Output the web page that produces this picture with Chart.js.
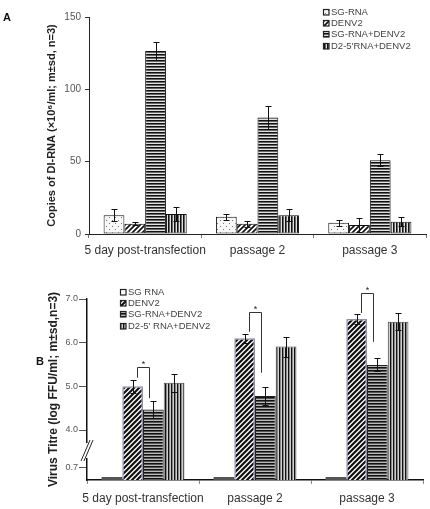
<!DOCTYPE html>
<html>
<head>
<meta charset="utf-8">
<script src="https://cdn.jsdelivr.net/npm/chart.js@4.4.0/dist/chart.umd.min.js"></script>
<style>
  body { margin: 0; background: #fff; }
  #wrap { position: relative; width: 430px; height: 509px; overflow: hidden; }
  canvas { position: absolute; left: 0; }
  #cA { top: 0; }
  #cB { top: 262px; }
  .tag { position: absolute; font: bold 11px "Liberation Sans", Arial, sans-serif; line-height: 1; color: #111; }
</style>
</head>
<body>
<div id="wrap">
  <canvas id="cA" width="430" height="262"></canvas>
  <canvas id="cB" width="430" height="247"></canvas>
  <div class="tag" style="left:3px;top:12px">A</div>
  <div class="tag" style="left:36px;top:356px">B</div>
</div>
<script>
//--------------------------------Data--------------------------------
var categories = ['5 day post-transfection', 'passage 2', 'passage 3'];

// panel A - copies of DI-RNA (x10^6/ml)
var labelsA = ['SG-RNA', 'DENV2', 'SG-RNA+DENV2', "D2-5'RNA+DENV2"];
var sgRnaA   = [13, 12, 7.8];
var denvA    = [7, 7, 6.2];
var sgDenvA  = [126.5, 80.6, 51];
var d2DenvA  = [13.8, 13, 8.5];
var sgRnaA_sd  = [4, 2, 2];
var denvA_sd   = [1, 2, 4.6];
var sgDenvA_sd = [6.5, 8, 4];
var d2DenvA_sd = [5, 4, 3];
var ticksA = [0, 50, 100, 150];

// panel B - virus titre (log FFU/ml), broken axis below 4.0
var labelsB = ['SG RNA', 'DENV2', 'SG-RNA+DENV2', "D2-5' RNA+DENV2"];
var sgRnaB   = [0, 0, 0];
var denvB    = [5.0, 6.1, 6.54];
var sgDenvB  = [4.47, 4.78, 5.49];
var d2DenvB  = [5.08, 5.91, 6.48];
var denvB_sd   = [0.15, 0.1, 0.11];
var sgDenvB_sd = [0.2, 0.21, 0.15];
var d2DenvB_sd = [0.21, 0.23, 0.19];
var tickLabelsB = ['0.7', '4.0', '5.0', '6.0', '7.0'];
// significance brackets (DENV2 vs SG-RNA+DENV2)
var sigTopB      = [5.44, 6.71, 7.14];
var sigLeftEndB  = [5.2, 6.25, 6.68];
var sigRightEndB = [4.73, 5.31, 6.02];
//----------------------------------------------------------------

Chart.defaults.font.family = '"Liberation Sans", Arial, sans-serif';
Chart.defaults.animation = false;

function makePattern(ctx, w, h, draw) {
  var c = document.createElement('canvas');
  c.width = w; c.height = h;
  draw(c.getContext('2d'), w, h);
  return ctx.createPattern(c, 'repeat');
}
function dots(bg, fg) {
  return function (g, w, h) {
    g.fillStyle = bg; g.fillRect(0, 0, w, h);
    g.fillStyle = fg; g.fillRect(1, 1, 1, 1); g.fillRect(4, 4, 1, 1);
  };
}
function diag(lw) {
  return function (g, w, h) {
    g.fillStyle = '#fff'; g.fillRect(0, 0, w, h);
    g.strokeStyle = '#111'; g.lineWidth = lw;
    g.beginPath();
    g.moveTo(0, h); g.lineTo(w, 0);
    g.moveTo(-w, h); g.lineTo(0, 0);
    g.moveTo(w, 2 * h); g.lineTo(2 * w, 0);
    g.moveTo(-1, 1); g.lineTo(1, -1);
    g.moveTo(w - 1, h + 1); g.lineTo(w + 1, h - 1);
    g.stroke();
  };
}
function rows(cols, vertical) {
  return function (g, w, h) {
    for (var i = 0; i < cols.length; i++) {
      g.fillStyle = cols[i];
      if (vertical) g.fillRect(i, 0, 1, h); else g.fillRect(0, i, w, 1);
    }
  };
}

function makeErrorBars(sdLists) {
  return {
    id: 'errorBars',
    afterDatasetsDraw: function (chart) {
      var ctx = chart.ctx, y = chart.scales.y;
      ctx.save();
      ctx.strokeStyle = '#111';
      ctx.lineWidth = 1;
      chart.data.datasets.forEach(function (ds, di) {
        var sd = sdLists[di];
        if (!sd) return;
        chart.getDatasetMeta(di).data.forEach(function (bar, i) {
          var v = ds.data[i];
          var top = Math.round(y.getPixelForValue(v + sd[i])) + 0.5;
          var bot = Math.round(y.getPixelForValue(v - sd[i])) + 0.5;
          var x = Math.round(bar.x) + 0.5;
          ctx.beginPath();
          ctx.moveTo(x, top); ctx.lineTo(x, bot);
          ctx.moveTo(x - 3, top); ctx.lineTo(x + 3, top);
          ctx.moveTo(x - 3, bot); ctx.lineTo(x + 3, bot);
          ctx.stroke();
        });
      });
      ctx.restore();
    }
  };
}

function makeLegend(x, y0, rowH) {
  return {
    id: 'boxLegend',
    afterDraw: function (chart) {
      var ctx = chart.ctx;
      ctx.save();
      ctx.font = '9.5px "Liberation Sans", Arial, sans-serif';
      ctx.textBaseline = 'middle';
      chart.data.datasets.forEach(function (ds, i) {
        var yy = Math.round(y0 + i * rowH);
        ctx.fillStyle = ds.legendFill || ds.backgroundColor;
        ctx.fillRect(x, yy - 3, 6, 6);
        ctx.strokeStyle = '#222';
        ctx.lineWidth = 1.2;
        ctx.strokeRect(x + 0.5, yy - 2.5, 5.5, 5.5);
        ctx.fillStyle = '#444';
        ctx.fillText(ds.label, x + 8, yy + 0.5);
      });
      ctx.restore();
    }
  };
}

//--------------------------------Chart A--------------------------------
var ctxA = document.getElementById('cA').getContext('2d');
var pSgA = makePattern(ctxA, 6, 6, dots('#f7f7f7', '#777'));
var pDenvA = makePattern(ctxA, 5, 5, diag(1.7));
var pSgDenvA = makePattern(ctxA, 4, 3, rows(['#111', '#666', '#e2e2e2'], false));
var pD2A = makePattern(ctxA, 3, 4, rows(['#111', '#666', '#e2e2e2'], true));

new Chart(ctxA, {
  type: 'bar',
  data: {
    labels: categories,
    datasets: [
      { label: labelsA[0], data: sgRnaA, backgroundColor: pSgA },
      { label: labelsA[1], data: denvA, backgroundColor: pDenvA },
      { label: labelsA[2], data: sgDenvA, backgroundColor: pSgDenvA },
      { label: labelsA[3], data: d2DenvA, backgroundColor: pD2A }
    ]
  },
  options: {
    responsive: false,
    layout: { padding: { left: 0, top: 17, right: 4, bottom: 0 } },
    datasets: { bar: { categoryPercentage: 0.74, barPercentage: 1, borderColor: '#111', borderWidth: 1, borderSkipped: false, clip: 0 } },
    plugins: { legend: { display: false }, tooltip: { enabled: false } },
    scales: {
      x: {
        grid: { drawOnChartArea: false, tickLength: 4, color: '#777', offset: true },
        border: { color: '#222', width: 1 },
        ticks: { color: '#333', font: { size: 12 }, padding: 5, maxRotation: 0, autoSkip: false },
        afterFit: function (s) { s.height = 28; }
      },
      y: {
        min: 0, max: 150,
        afterBuildTicks: function (s) { s.ticks = ticksA.map(function (v) { return { value: v }; }); },
        grid: { drawOnChartArea: false, tickLength: 4, color: '#333' },
        border: { color: '#222', width: 1 },
        ticks: { color: '#555', font: { size: 10 }, padding: 4 },
        title: { display: true, text: 'Copies of DI-RNA (\u00d710\u2076/ml; m\u00b1sd, n=3)', color: '#222', font: { size: 11, weight: 'bold' }, padding: { top: 45, bottom: 0 } },
        afterFit: function (s) { s.width = 89; }
      }
    }
  },
  plugins: [makeErrorBars([sgRnaA_sd, denvA_sd, sgDenvA_sd, d2DenvA_sd]), makeLegend(323, 11.7, 11.3)]
});

//--------------------------------Chart B--------------------------------
var ctxB = document.getElementById('cB').getContext('2d');
var pDenvB = makePattern(ctxB, 5, 5, diag(2.2));
var pSgDenvB = makePattern(ctxB, 4, 3, rows(['#111', '#555', '#b8b8b8'], false));
var pD2B = makePattern(ctxB, 3, 4, rows(['#111', '#888', '#cfcfcf'], true));
var tickPosB = [3.15, 4, 5, 6, 7];

var sigBrackets = {
  id: 'sigBrackets',
  afterDatasetsDraw: function (chart) {
    var ctx = chart.ctx, y = chart.scales.y;
    var left = chart.getDatasetMeta(1).data, right = chart.getDatasetMeta(2).data;
    ctx.save();
    ctx.strokeStyle = '#333';
    ctx.lineWidth = 1;
    ctx.fillStyle = '#222';
    ctx.font = '9px "Liberation Sans", Arial, sans-serif';
    ctx.textAlign = 'center';
    ctx.textBaseline = 'middle';
    for (var i = 0; i < sigTopB.length; i++) {
      var xl = Math.round(left[i].x + 4) + 0.5, xr = Math.round(right[i].x - 4) + 0.5;
      var yt = Math.round(y.getPixelForValue(sigTopB[i])) + 0.5;
      ctx.beginPath();
      ctx.moveTo(xl, y.getPixelForValue(sigLeftEndB[i]));
      ctx.lineTo(xl, yt);
      ctx.lineTo(xr, yt);
      ctx.lineTo(xr, y.getPixelForValue(sigRightEndB[i]));
      ctx.stroke();
      ctx.fillText('*', (xl + xr) / 2, yt - 3);
    }
    ctx.restore();
  }
};

var axisBreak = {
  id: 'axisBreak',
  afterDraw: function (chart) {
    var ctx = chart.ctx, y = chart.scales.y, x0 = chart.chartArea.left;
    var g1 = y.getPixelForValue(3.7), g2 = y.getPixelForValue(3.36);
    ctx.save();
    ctx.fillStyle = '#fff';
    ctx.fillRect(x0 - 2, g1, 4, g2 - g1);
    ctx.strokeStyle = '#222';
    ctx.lineWidth = 1;
    ctx.beginPath();
    [-3, 0].forEach(function (off) {
      ctx.moveTo(x0 - 3 + off, g2 + 3);
      ctx.lineTo(x0 + 6 + off, g1 - 3);
    });
    ctx.stroke();
    ctx.restore();
  }
};

new Chart(ctxB, {
  type: 'bar',
  data: {
    labels: categories,
    datasets: [
      { label: labelsB[0], data: sgRnaB, backgroundColor: '#555', legendFill: '#fff', minBarLength: 3, borderWidth: 0 },
      { label: labelsB[1], data: denvB, backgroundColor: pDenvB, borderColor: '#9090b0', borderWidth: 1.5 },
      { label: labelsB[2], data: sgDenvB, backgroundColor: pSgDenvB, borderColor: '#222', borderWidth: 1 },
      { label: labelsB[3], data: d2DenvB, backgroundColor: pD2B, borderColor: '#444', borderWidth: 1 }
    ]
  },
  options: {
    responsive: false,
    layout: { padding: { left: 0, top: 37, right: 7, bottom: 0 } },
    datasets: { bar: { categoryPercentage: 0.74, barPercentage: 1, clip: 0 } },
    plugins: { legend: { display: false }, tooltip: { enabled: false } },
    scales: {
      x: {
        grid: { drawOnChartArea: false, tickLength: 4, color: '#888', offset: true },
        border: { color: '#111', width: 1.5 },
        ticks: { color: '#333', font: { size: 12 }, padding: 7, maxRotation: 0, autoSkip: false },
        afterFit: function (s) { s.height = 29; }
      },
      y: {
        min: 2.855, max: 7,
        afterBuildTicks: function (s) { s.ticks = tickPosB.map(function (v) { return { value: v }; }); },
        grid: { drawOnChartArea: false, tickLength: 8, color: '#555' },
        border: { color: '#111', width: 1.5 },
        ticks: { color: '#555', font: { size: 9 }, padding: 1, callback: function (v, i) { return tickLabelsB[i]; } },
        title: { display: true, text: 'Virus Titre (log FFU/ml; m\u00b1sd,n=3)', color: '#222', font: { size: 12, weight: 'bold' }, padding: { top: 46, bottom: 0 } },
        afterFit: function (s) { s.width = 87; }
      }
    }
  },
  plugins: [makeErrorBars([null, denvB_sd, sgDenvB_sd, d2DenvB_sd]), sigBrackets, axisBreak, makeLegend(120, 29.7, 11.3)]
});
</script>
</body>
</html>
